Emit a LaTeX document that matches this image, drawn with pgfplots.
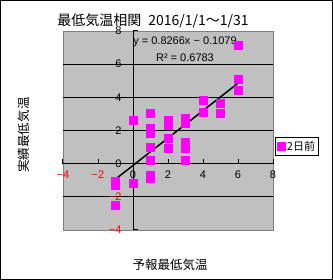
\documentclass[border=0pt]{standalone}
\usepackage{fontspec}
\setmainfont{Noto Sans CJK JP}
\newfontfamily\numfont{Liberation Sans}
\usepackage{pgfplots}
\pgfplotsset{compat=1.18}
\definecolor{bg}{RGB}{192,192,192}
\definecolor{frm}{RGB}{128,128,128}
\definecolor{mag}{RGB}{255,0,255}
\begin{document}
\begin{tikzpicture}[x=1bp,y=1bp]
\draw[black, line width=1bp] (0.5,0.5) rectangle (332.5,279.5);
\begin{axis}[
  at={(63bp,50bp)}, anchor=south west,
  scale only axis, width=210bp, height=199bp,
  xmin=-4, xmax=8, ymin=-4, ymax=8,
  axis lines=middle,
  axis line style={-, black, line width=1bp},
  axis background/.style={fill=bg, draw=frm, line width=0.8bp},
  hide obscured x ticks=false, hide obscured y ticks=false,
  xtick={-4,-2,0,2,4,6,8},
  xticklabels={{\textcolor{red}{−4}},{\textcolor{red}{−2}},0,2,4,6,8},
  ytick={-2,0,2,4,6},
  yticklabels={{\textcolor{red}{−2}},0,2,4,6},
  extra y ticks={-4,8},
  extra y tick labels={{\textcolor{red}{−4}},8},
  extra y tick style={grid=none},
  ymajorgrids=true,
  major grid style={black, line width=1bp},
  tick style={black, line width=1bp},
  major tick length=5bp,
  tick align=inside,
  ticklabel style={font=\numfont\fontsize{11bp}{13bp}\selectfont},
  yticklabel style={xshift=-8bp},
  xticklabel style={yshift=-4bp},
  legend style={at={(1.01,0.42)}, anchor=west, draw=black, fill=white,
    font=\fontsize{11bp}{13bp}\selectfont, inner sep=1.5bp, line width=0.8bp},
  legend cell align=left,
]
\addplot[only marks, mark=square*, mark size=4bp, mark options={fill=mag, draw=mag, line width=0pt}] coordinates {
(-1,-1.1) (-1,-1.3) (-1,-2.5)
(0,2.6) (0,-1.2)
(1,3.0) (1,2.1) (1,1.8) (1,0.95) (1,0.2) (1,-0.7) (1,-0.9)
(2,2.6) (2,2.3) (2,1.5) (2,0.9)
(3,2.75) (3,2.4) (3,1.25) (3,0.9) (3,0.2)
(4,3.8) (4,3.1)
(5,3.6) (5,3.0)
(6,7.1) (6,5.05) (6,4.4)
};
\addlegendentry{2日前}
\addplot[black, line width=1.5bp, forget plot] coordinates {(-1,-0.9345) (6,4.8517)};
\node[font=\numfont\fontsize{11bp}{13bp}\selectfont] at (axis cs:2.97,7.35) {y = 0.8266x − 0.1079};
\node[font=\numfont\fontsize{11bp}{13bp}\selectfont] at (axis cs:2.97,6.39) {R² = 0.6783};
\end{axis}
\node[font=\fontsize{14bp}{16bp}\selectfont] at (153,259) {最低気温相関\hspace{0.5em}2016/1/1～1/31};
\node[font=\fontsize{12.5bp}{14bp}\selectfont, rotate=90] at (24,145) {実績最低気温};
\node[font=\fontsize{12.5bp}{14bp}\selectfont] at (170,15) {予報最低気温};
\end{tikzpicture}
\end{document}
